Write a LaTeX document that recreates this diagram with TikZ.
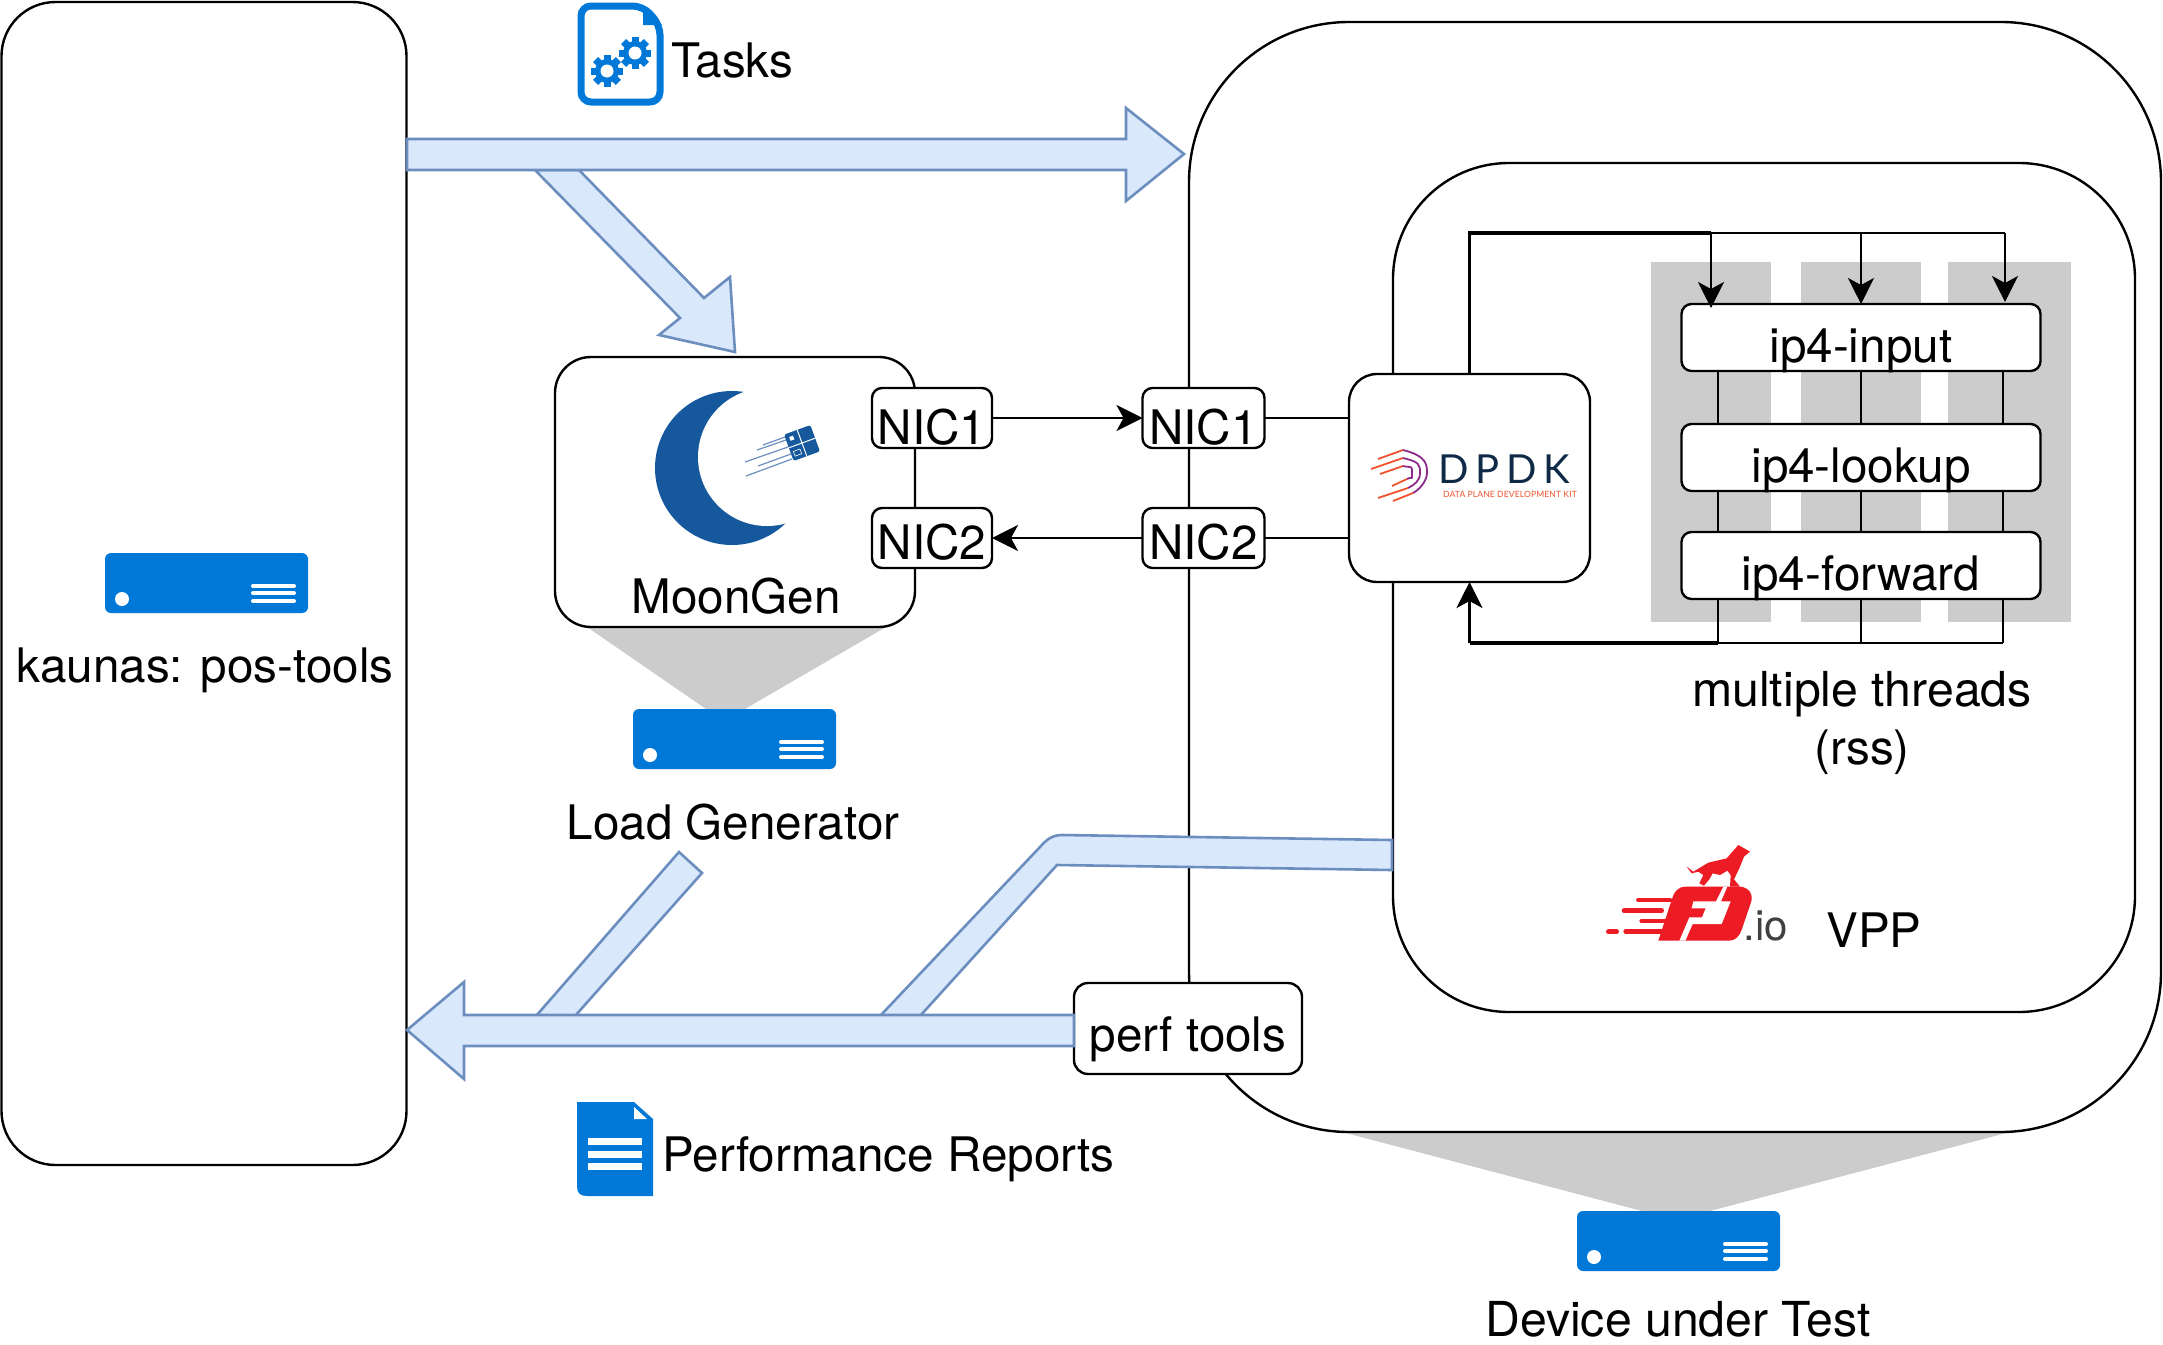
\documentclass[tikz,border=0pt]{standalone}
\usepackage{fontspec}
\usepackage{tikz}
\usetikzlibrary{arrows.meta}
\setmainfont{TeX Gyre Heros}
\newfontfamily\dpdkfont[LetterSpace=17]{Lato}
\newfontfamily\tagfont[LetterSpace=1]{Lato}
\definecolor{serverblue}{HTML}{0078D7}
\definecolor{moonblue}{HTML}{15589B}
\definecolor{bandgray}{HTML}{CCCCCC}
\definecolor{pipefill}{HTML}{DAE8FC}
\definecolor{pipeline}{HTML}{6C8EBF}
\definecolor{fdred}{HTML}{ED1C24}
\definecolor{dpdknavy}{HTML}{0F2A47}
\definecolor{dpdkorange}{HTML}{F0532D}
\definecolor{dpdkpurple}{HTML}{8E2A8B}
\tikzset{
	server/.pic={
		\fill[serverblue, rounded corners=3pt] (0,0) rectangle (203,60);
		\fill[white] (17,46) circle[radius=7];
		\foreach \ly in {33,40,48}
			\draw[white, line width=2pt, line cap=round] (148,\ly) -- (189,\ly);
	},
	gear/.pic={
		\foreach \ga in {0,45,...,315}
			\fill[serverblue, rotate=\ga] (-3.5,-16) rectangle (3.5,16);
		\fill[serverblue] (0,0) circle[radius=12];
		\fill[white] (0,0) circle[radius=6.5];
	}
}
\begin{document}
\begin{tikzpicture}[x=0.5pt, y=-0.5pt, line width=1.2pt,
		box/.style={draw, rounded corners=#1, inner sep=0pt, outer sep=0pt, fill=white},
		box/.default=5pt,
		txt/.style={font=\fontsize{23.8}{28}\selectfont, inner sep=0pt, anchor=base},
		nic/.style={box, font=\fontsize{23.8}{28}\selectfont},
		nicup/.style={nic, text height=28.4pt, text depth=1.6pt},
		nicdown/.style={nic, text height=25.6pt, text depth=4.4pt},
		stage/.style={box, minimum width=179.5pt, font=\fontsize{23.8}{28}\selectfont, text height=29pt, text depth=4.5pt},
		pipe/.style={draw=pipeline, fill=pipefill, line width=1.3pt, line join=miter},
		band/.style={fill=bandgray},
		flow/.style={-{Stealth[length=13pt, width=13pt, inset=3.5pt]}, line width=1.2pt}]
	\useasboundingbox (0,0) rectangle (2163,1344);

	\fill[band] (587,627) -- (886,627) -- (745,709) -- (706,709) -- cycle;
	\fill[band] (1342,1132) -- (2010,1132) -- (1710,1211) -- (1642,1211) -- cycle;

	\node[box=27pt, minimum width=202.5pt, minimum height=581.5pt] (pos) at (204,583.5) {};
	\node[box=80pt, minimum width=486pt, minimum height=555pt] (dut) at (1675,577) {};
	\node[box=58pt, minimum width=371pt, minimum height=424.5pt] (vpp) at (1764,587.5) {};
	\node[box=18pt, minimum width=180pt, minimum height=135pt] (moongen) at (735,492) {};

	\fill[band] (1651,262) rectangle (1771,622);
	\fill[band] (1801,262) rectangle (1921,622);
	\fill[band] (1948,262) rectangle (2071,622);

	\node[box=14pt, minimum width=120.5pt, minimum height=104pt] (dpdk) at (1469.5,478) {};

	\node[stage] (input) at (1861,337.5) {ip4-input};
	\node[stage] (lookup) at (1861,457.5) {ip4-lookup};
	\node[stage] (forward) at (1861,565.5) {ip4-forward};

	\coordinate (bustop) at (1469.5,233);
	\coordinate (busbot) at (1469.5,643);
	\coordinate (inA) at (1711,233);
	\coordinate (inB) at (1861,233);
	\coordinate (inC) at (2005,233);
	\coordinate (outA) at (1718,643);
	\coordinate (outB) at (1861,643);
	\coordinate (outC) at (2003,643);

	\draw (inA) -- (inC);
	\draw[line width=1.6pt] (dpdk.north) -- (bustop) -- (inA);
	\draw[flow] (inA) -- ([yshift=-2pt]inA |- input.north);
	\draw[flow] (inB) -- (inB |- input.north);
	\draw[flow] (inC) -- ([yshift=1pt]inC |- input.north);
	\foreach \c in {outA,outB,outC} {
		\draw (input.south -| \c) -- (lookup.north -| \c);
		\draw (lookup.south -| \c) -- (forward.north -| \c);
		\draw (forward.south -| \c) -- (\c);
	}
	\draw (outC) -- (outA);
	\draw[line width=1.6pt] (outA) -- (busbot);
	\draw[flow, line width=1.6pt] (busbot) -- (dpdk.south);

	\node[nicup, minimum width=60pt] (genA) at (932,418) {NIC1};
	\node[nicdown, minimum width=60pt] (genB) at (932,538) {NIC2};
	\node[nicup, minimum width=61pt] (dutA) at (1203.5,418) {NIC1};
	\node[nicdown, minimum width=61pt] (dutB) at (1203.5,538) {NIC2};
	\draw[flow] (genA) -- (dutA);
	\draw[flow] (dutB) -- (genB);
	\draw (dutA.east) -- (dutA -| dpdk.west);
	\draw (dutB.east) -- (dutB -| dpdk.west);

	\path[pipe] (535,170) -- (680,318) -- (659,335) -- (735,352) -- (730,277) -- (704,298) -- (579,170) -- cycle;
	\path[pipe] (407,139) -- (1126,139) -- (1126,108) -- (1184,154) -- (1126,201) -- (1126,170) -- (407,170) -- cycle;
	\path[pipe] (679,852) -- (702,873) -- (575,1016) -- (536,1016) -- cycle;
	\path[pipe] (880,1016) -- (1040,847) .. controls (1046,840) and (1052,835) .. (1062,835) -- (1392,840) -- (1392,870) -- (1057,865) -- (920,1016) -- cycle;
	\node[box=7pt, minimum width=114pt, minimum height=45.5pt, font=\fontsize{23.8}{28}\selectfont, text height=34pt, text depth=11.5pt] (perf) at (1188,1028.5) {perf tools};
	\path[pipe] (perf.north west |- 0,1015) -- (464,1015) -- (464,982) -- (407,1030) -- (464,1079) -- (464,1046) -- (perf.south west |- 0,1046) -- cycle;

	\pic at (105,553) {server};
	\pic at (633,709) {server};
	\pic at (1577,1211) {server};

	\node[txt] (poslabel) at (205,682) {kaunas: pos-tools};
	\node[txt] (genname) at (736,613) {MoonGen};
	\node[txt] (genlabel) at (733,839) {Load Generator};
	\node[txt, font=\fontsize{24.1}{28}\selectfont] (dutlabel) at (1678,1336) {Device under Test};
	\node[txt, font=\fontsize{24.1}{28}\selectfont] (threads) at (1862,706) {multiple threads};
	\node[txt] (rss) at (1862,764) {(rss)};
	\node[txt] (vpplabel) at (1874,947) {VPP};
	\node[txt, anchor=base west] (tasks) at (670,77) {Tasks};
	\node[txt, anchor=base west] (reports) at (661,1171) {Performance Reports};

	\draw[serverblue, line width=3.5pt, rounded corners=5pt, fill=white] (581,6) -- (643,6) -- (660,25) -- (660,102) -- (581,102) -- cycle;
	\fill[serverblue] (643,5) -- (662,25) -- (643,25) -- cycle;
	\pic at (607,71) {gear};
	\pic at (635,53) {gear};

	\fill[serverblue] (577,1102) -- (634,1102) -- (653,1119) -- (653,1196) -- (587,1196) .. controls (580,1196) and (577,1193) .. (577,1186) -- cycle;
	\fill[white] (634,1107) -- (647,1119) -- (634,1119) -- cycle;
	\foreach \ry in {1138,1151,1163}
		\fill[white] (588,\ry) rectangle (642,\ry+7);

	\fill[moonblue] (732,468) circle[radius=77];
	\fill[white] (767,457) circle[radius=69];
	\begin{scope}[shift={(802,443)}, rotate=20]
		\fill[moonblue, rounded corners=1pt] (-14,-14) rectangle (14,14);
		\draw[white, line width=.5pt] (-14,0) -- (14,0);
		\draw[white, line width=.5pt] (0,-14) -- (0,14);
		\fill[white] (-10,-10) rectangle (-6,-6);
		\draw[white, line width=.3pt] (-11,5) rectangle (-4,10);
	\end{scope}
	\foreach \ax/\ay/\bx/\by in {763/445/785/437,757/450/786/440,745/462/788/447,758/466/791/454,746/476/792/459}
		\draw[pipeline, line width=.6pt] (\ax,\ay) -- (\bx,\by);

	\foreach \sx/\sy/\ax/\ay/\cx/\cy/\dx/\dy/\fx/\fy/\ex/\ey in {1378/459/1403/450/1427/473/1413/493/1393/501/1427/456,1371/469/1403/458/1420/473/1408/488/1378/498/1420/462,1380/474/1403/466/1412/473/1407/479/1392/486/1412/468} {
		\draw[dpdkorange, line width=.9pt] (\sx,\sy) -- (\ax,\ay);
		\draw[dpdkpurple, line width=.9pt] (\ax,\ay) .. controls (\ex,\ey) and (\cx,\cy-8) .. (\cx,\cy) .. controls (\cx,\cy+8) and (\dx+6,\dy-3) .. (\dx,\dy);
		\draw[dpdkorange, line width=.9pt] (\dx,\dy) -- (\fx,\fy);
	}
	\node[inner sep=0pt, anchor=base west, text=dpdknavy, font=\dpdkfont\fontsize{20}{24}\selectfont] (dpdkname) at (1437,483) {DPDK};
	\node[inner sep=0pt, anchor=base west, text=dpdkorange, font=\tagfont\fontsize{4.3}{5}\selectfont] (dpdktag) at (1442,497) {DATA PLANE DEVELOPMENT KIT};

	\begin{scope}[shift={(1640,840)}, scale=1/3]
		\fill[fdred] (55,302) -- (95,180) .. controls (102,155) and (115,140) .. (135,140) -- (300,140) .. controls (328,142) and (342,165) .. (332,190) -- (304,272) .. controls (296,292) and (284,302) .. (266,302) -- cycle;
		\fill[white] (250,140) -- (262,140) -- (243,184) -- (272,184) -- (245,252) -- (158,252) -- (136,302) -- (118,302) -- (148,232) -- (186,232) -- (197,205) -- (155,205) -- (160,184) -- (228,184) -- cycle;
		\fill[fdred] (140,80) -- (160,95) -- (205,68) -- (260,55) -- (295,15) -- (330,35) -- (312,50) -- (298,85) -- (282,118) -- (300,140) -- (270,140) -- (272,105) -- (262,92) -- (240,105) -- (218,100) -- (208,118) -- (192,137) -- (178,130) -- (190,105) -- (175,95) -- (155,100) -- cycle;
		\foreach \bl/\br/\by in {-5/90/180,-48/65/212,5/95/243,-43/65/275,-95/-70/275}
			\draw[fdred, line width=2.3pt, line cap=round] (\bl,\by) -- (\br,\by);
		\node[inner sep=0pt, anchor=base west, text=black!75, font=\fontsize{21}{25}\selectfont] (fdio) at (307,300) {.io};
	\end{scope}
\end{tikzpicture}
\end{document}
